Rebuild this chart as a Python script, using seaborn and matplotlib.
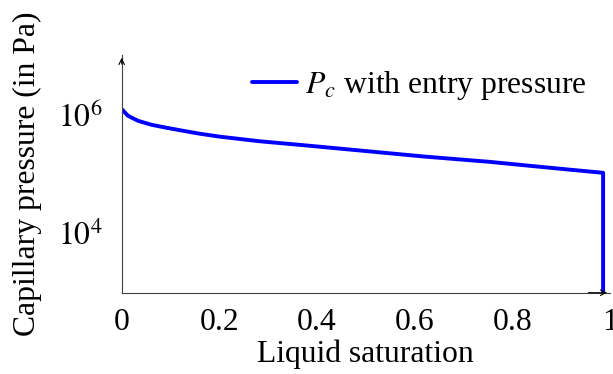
import matplotlib
matplotlib.use("Agg")
import matplotlib.pyplot as plt
import seaborn as sns
import pandas as pd

# Data
saturation = [0.0, 0.0129, 0.0334, 0.0606, 0.0948, 0.132, 0.160, 0.201, 0.242, 0.283,
              0.373, 0.504, 0.621, 0.754, 0.875, 0.986, 0.986]
pressure = [1.23e6, 9.48e5, 7.81e5, 6.70e5, 5.90e5, 5.19e5, 4.73e5, 4.22e5, 3.86e5, 3.53e5,
            3.03e5, 2.40e5, 1.95e5, 1.59e5, 1.27e5, 1.04e5, 1.0e3]
series_label = r"$P_c$ with entry pressure"
x_ticks = [0, 0.2, 0.4, 0.6, 0.8, 1]
x_tick_labels = ["0", "0.2", "0.4", "0.6", "0.8", "1"]
y_ticks = [1e4, 1e6]
y_tick_labels = [r"$10^4$", r"$10^6$"]

df = pd.DataFrame({"s": saturation, "p": pressure, "series": series_label})

sns.set_style("white")
plt.rcParams["font.family"] = ["Liberation Serif", "DejaVu Serif"]
plt.rcParams["mathtext.fontset"] = "stix"
plt.rcParams["text.color"] = "black"
plt.rcParams["axes.labelcolor"] = "black"

FS = 22.8

fig = plt.figure(figsize=(6.13, 3.74), dpi=100)
ax = fig.add_axes([0.1985, 0.2174, 0.7965, 0.6356])

sns.lineplot(data=df, x="s", y="p", hue="series", palette=["#0000ff"],
             linewidth=2.8, sort=False, ax=ax, estimator=None)
ax.set_yscale("log")
ax.set_xlim(0, 1)
ax.set_ylim(1e3, 1e7)

for side in ["top", "right"]:
    ax.spines[side].set_visible(False)
for side in ["left", "bottom"]:
    ax.spines[side].set_color("#404040")
    ax.spines[side].set_linewidth(0.8)

ax.set_xticks(x_ticks)
ax.set_xticklabels(x_tick_labels)
ax.set_yticks(y_ticks)
ax.set_yticklabels(y_tick_labels)
ax.minorticks_off()
ax.tick_params(axis="both", which="major", direction="inout", length=6, width=0.6,
               color="#808080", labelcolor="black", labelsize=FS)
ax.tick_params(axis="x", pad=8)
ax.tick_params(axis="y", pad=11)

ax.set_xlabel("Liquid saturation", fontsize=FS, labelpad=1.5, color="black")
ax.set_ylabel("Capillary pressure (in Pa)", fontsize=FS, labelpad=11, color="black")

ax.annotate("", xy=(0, 1.0), xytext=(0, 0.95), xycoords="axes fraction",
            arrowprops=dict(arrowstyle="->", lw=0.8, color="black"))
ax.annotate("", xy=(1.0, 0), xytext=(0.95, 0), xycoords="axes fraction",
            arrowprops=dict(arrowstyle="->", lw=0.8, color="black"))

leg = ax.legend(loc="center right", frameon=False, fontsize=FS, handlelength=1.42,
                handletextpad=0.25, borderpad=0, borderaxespad=0,
                bbox_to_anchor=(0.953, 0.873))
for t in leg.get_texts():
    t.set_color("black")

fig.savefig("out.png", dpi=100)
